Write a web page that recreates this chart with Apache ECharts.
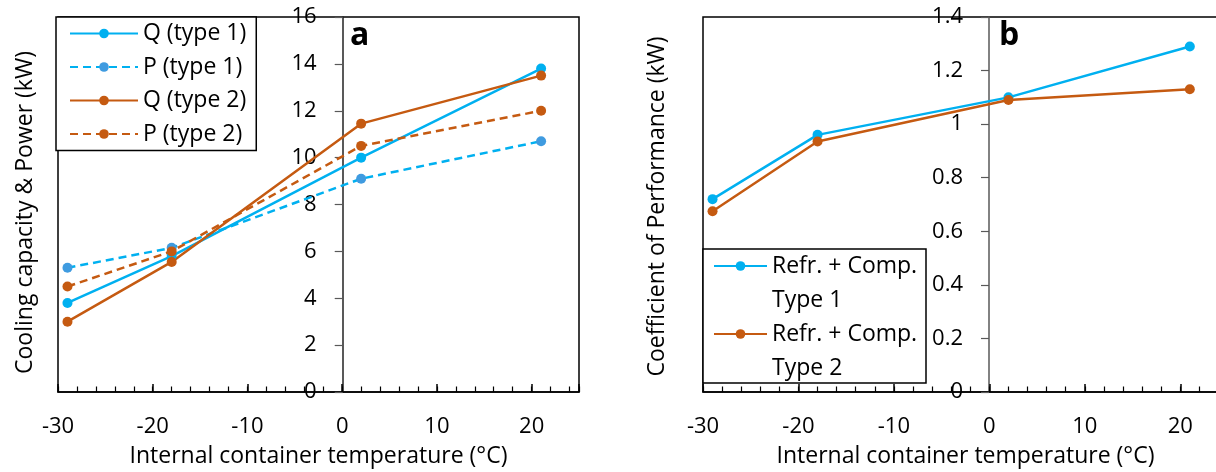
<!DOCTYPE html>
<html><head><meta charset="utf-8">
<script src="https://cdn.jsdelivr.net/npm/echarts@6/dist/echarts.min.js"></script>
<style>html,body{margin:0;padding:0;background:#fff}#c{width:1216px;height:472px}</style>
</head><body><div id="c"></div>
<script>
// ---- data ----
const temps = [-29, -18, 2, 21];
const qType1 = [3.8, 5.8, 10.0, 13.8];
const pType1 = [5.3, 6.15, 9.1, 10.7];
const qType2 = [3.0, 5.55, 11.45, 13.5];
const pType2 = [4.5, 6.0, 10.5, 12.0];
const copType1 = [0.72, 0.96, 1.10, 1.29];
const copType2 = [0.675, 0.935, 1.09, 1.13];
const xTickLabels = [-30, -20, -10, 0, 10, 20];

const FONT = 'Open Sans';
const FS = 22, FN = 23;
const BLUE = '#00B0F0', BLUE_M = '#3F9BE0', ORANGE = '#C55A11';
const chart = echarts.init(document.getElementById('c'));
const pts = vals => temps.map((t, i) => [t, vals[i]]);
const labelFmt = v => xTickLabels.indexOf(v) >= 0 ? String(v) : '';

function mainX(gi) {
  return {
    type: 'value', gridIndex: gi, position: 'bottom', min: -30, max: 25, interval: 10,
    name: 'Internal container temperature (°C)', nameLocation: 'middle', nameGap: 53,
    nameTextStyle: { fontFamily: FONT, fontSize: FN, color: '#000' },
    axisLine: { onZero: false, lineStyle: { color: '#000', width: 1.5 } },
    axisTick: { inside: true, length: 8, lineStyle: { color: '#000', width: 1.5 } },
    axisLabel: { margin: 24, fontFamily: FONT, fontSize: FS, color: '#000', formatter: labelFmt },
    splitLine: { show: false }
  };
}
function minorX(gi) {
  return {
    type: 'value', gridIndex: gi, position: 'bottom', min: -30, max: 25, interval: 2,
    axisLine: { show: false, onZero: false },
    axisTick: { inside: true, length: 5.5, lineStyle: { color: '#000', width: 1.2 } },
    axisLabel: { show: false }, splitLine: { show: false }
  };
}
function yAx(gi, max, interval, name, gap, offset, lineColor, namePad) {
  return {
    type: 'value', gridIndex: gi, position: 'left', offset: offset, min: 0, max: max, interval: interval,
    name: name, nameLocation: 'middle', nameGap: gap,
    nameTextStyle: { fontFamily: FONT, fontSize: FN, color: '#000', padding: namePad },
    axisLine: { show: true, onZero: false, lineStyle: { color: lineColor, width: 1.5 } },
    axisTick: { show: true, length: 8, lineStyle: { color: '#595959', width: 1.2 } },
    axisLabel: { margin: 26, fontFamily: FONT, fontSize: FS, color: '#000' },
    splitLine: { show: false }
  };
}
function line(name, data, color, mcolor, dashed, xi, yi) {
  return {
    type: 'line', name: name, data: pts(data), xAxisIndex: xi, yAxisIndex: yi,
    symbol: 'circle', symbolSize: 10, showSymbol: true,
    lineStyle: { color: color, width: 2.5, type: dashed ? [8, 5] : 'solid' },
    itemStyle: { color: mcolor },
    emphasis: { disabled: true }, z: 2
  };
}

chart.setOption({
  animation: false,
  backgroundColor: '#fff',
  grid: [
    { left: 58, top: 17, width: 521, height: 375, outerBoundsMode: 'none', containLabel: false,
      show: true, borderColor: '#000', borderWidth: 1.5, backgroundColor: 'transparent' },
    { left: 703, top: 17, width: 525, height: 375, outerBoundsMode: 'none', containLabel: false,
      show: true, borderColor: '#000', borderWidth: 1.5, backgroundColor: 'transparent' }
  ],
  xAxis: [mainX(0), minorX(0), mainX(1), minorX(1)],
  yAxis: [
    yAx(0, 16, 2, 'Cooling capacity & Power (kW)', 306, -284.7, '#222', [0, 16, 0, 0]),
    yAx(1, 1.4, 0.2, 'Coefficient of Performance (kW)', 320, -286, '#595959', [0, 4, 0, 0])
  ],
  legend: [
    {
      left: 56, top: 17, orient: 'vertical', itemWidth: 68, itemHeight: 12, itemGap: 10.5,
      backgroundColor: '#fff', borderColor: '#000', borderWidth: 1.5, borderRadius: 0,
      padding: [5, 10, 5, 13],
      textStyle: { fontFamily: FONT, fontSize: FN, color: '#000' },
      data: ['Q (type 1)', 'P (type 1)', 'Q (type 2)', 'P (type 2)']
    },
    {
      left: 713, top: 215, orient: 'vertical', itemWidth: 53, itemHeight: 12, itemGap: -34,
      padding: 0, z: 5,
      textStyle: { fontFamily: FONT, fontSize: FN, color: '#000', lineHeight: 34 },
      formatter: n => '\n' + n.replace(' Type', '\nType'),
      data: ['Refr. + Comp. Type 1', 'Refr. + Comp. Type 2']
    }
  ],
  graphic: [
    { type: 'rect', z: 4, shape: { x: 703, y: 249, width: 223, height: 134 },
      style: { fill: '#fff', stroke: '#000', lineWidth: 1.5 } },
    { type: 'text', left: 350, top: 20, z: 10, style: { text: 'a', fontFamily: FONT, fontWeight: 'bold', fontSize: 32, fill: '#000' } },
    { type: 'text', left: 999, top: 20, z: 10, style: { text: 'b', fontFamily: FONT, fontWeight: 'bold', fontSize: 32, fill: '#000' } }
  ],
  series: [
    line('Q (type 1)', qType1, BLUE, BLUE, false, 0, 0),
    line('P (type 1)', pType1, BLUE, BLUE_M, true, 0, 0),
    line('Q (type 2)', qType2, ORANGE, ORANGE, false, 0, 0),
    line('P (type 2)', pType2, ORANGE, ORANGE, true, 0, 0),
    line('Refr. + Comp. Type 1', copType1, BLUE, BLUE, false, 2, 1),
    line('Refr. + Comp. Type 2', copType2, ORANGE, ORANGE, false, 2, 1)
  ]
});
</script></body></html>
